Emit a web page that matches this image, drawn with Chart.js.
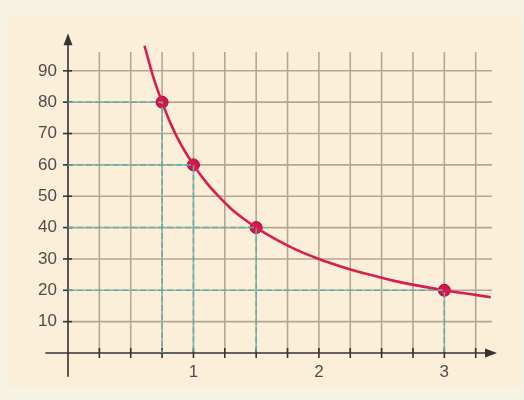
<!DOCTYPE html>
<html lang="en">
<head>
  <meta charset="UTF-8">
  <title>Hyperbola</title>
  <style>
    html, body { margin: 0; padding: 0; background: #f7f3e2; }
    #wrap { width: 524px; height: 400px; position: relative; }
  </style>
</head>
<body>
  <div id="wrap">
    <canvas id="graphic"></canvas>
  </div>

  <script src="https://cdn.jsdelivr.net/npm/chart.js"></script>
  <script>
    // marked points
    const puntosX = [0.75, 1, 1.5, 3];
    const puntosY = [80, 60, 40, 20];

    // curve
    const curvaX = [0.61, 0.68, 0.75, 0.82, 0.9, 1, 1.1, 1.2, 1.3, 1.4, 1.5, 1.65, 1.8, 2, 2.2, 2.4, 2.6, 2.8, 3, 3.2, 3.37];
    const curvaY = [98, 88, 80, 73, 66.5, 60, 54.5, 50, 46, 42.8, 40, 36.4, 33.3, 30, 27.3, 25, 23, 21.4, 20, 18.8, 17.8];

    const ticksY = [10, 20, 30, 40, 50, 60, 70, 80, 90];
    const ticksX = [1, 2, 3];
    const gridX = [0.25, 0.5, 0.75, 1, 1.25, 1.5, 1.75, 2, 2.25, 2.5, 2.75, 3, 3.25];

    const guias = puntosX.map((x, i) => ({
      type: 'line',
      data: [{ x: 0, y: puntosY[i] }, { x: x, y: puntosY[i] }, { x: x, y: 0 }],
      borderColor: '#56b3ad',
      borderWidth: 1.5,
      borderDash: [6, 3],
      pointRadius: 0,
      tension: 0,
      clip: false
    }));

    const fondo = {
      id: 'fondo',
      beforeDraw(chart) {
        const c = chart.ctx;
        c.save();
        c.fillStyle = '#f7f3e2';
        c.fillRect(0, 0, chart.width, chart.height);
        c.fillStyle = '#fcefd9';
        c.beginPath();
        c.roundRect(8, 14, 514, 375, 6);
        c.fill();
        c.restore();
      },
      beforeDatasetsDraw(chart) {
        const c = chart.ctx;
        const sx = chart.scales.x, sy = chart.scales.y;
        c.save();
        // grid
        c.strokeStyle = '#b3a793';
        c.lineWidth = 1.6;
        ticksY.forEach(v => {
          c.beginPath();
          c.moveTo(sx.getPixelForValue(0), sy.getPixelForValue(v));
          c.lineTo(sx.getPixelForValue(3.38), sy.getPixelForValue(v));
          c.stroke();
        });
        gridX.forEach(v => {
          c.beginPath();
          c.moveTo(sx.getPixelForValue(v), sy.getPixelForValue(0));
          c.lineTo(sx.getPixelForValue(v), sy.getPixelForValue(96));
          c.stroke();
        });
        // axes
        c.strokeStyle = '#333';
        c.fillStyle = '#333';
        c.lineWidth = 1.6;
        const x0 = sx.getPixelForValue(0), y0 = sy.getPixelForValue(0);
        const xEnd = sx.getPixelForValue(3.42), yEnd = sy.getPixelForValue(102);
        c.beginPath();
        c.moveTo(sx.getPixelForValue(-0.18), y0);
        c.lineTo(xEnd - 8, y0);
        c.moveTo(x0, sy.getPixelForValue(-7.6));
        c.lineTo(x0, yEnd + 8);
        c.stroke();
        // ticks
        gridX.forEach(v => {
          const px = sx.getPixelForValue(v);
          c.beginPath();
          c.moveTo(px, y0 - 5);
          c.lineTo(px, y0 + 5);
          c.stroke();
        });
        ticksY.forEach(v => {
          const py = sy.getPixelForValue(v);
          c.beginPath();
          c.moveTo(x0 - 5, py);
          c.lineTo(x0 + 4, py);
          c.stroke();
        });
        // arrows
        c.beginPath();
        c.moveTo(xEnd, y0);
        c.lineTo(xEnd - 12, y0 - 4.5);
        c.lineTo(xEnd - 12, y0 + 4.5);
        c.closePath();
        c.fill();
        c.beginPath();
        c.moveTo(x0, yEnd);
        c.lineTo(x0 - 4.5, yEnd + 12);
        c.lineTo(x0 + 4.5, yEnd + 12);
        c.closePath();
        c.fill();
        c.restore();
      }
    };

    new Chart(document.getElementById('graphic'), {
      type: 'scatter',
      data: {
        datasets: [
          ...guias,
          {
            type: 'line',
            data: curvaX.map((x, i) => ({ x: x, y: curvaY[i] })),
            borderColor: '#d81e50',
            borderWidth: 2.6,
            pointRadius: 0,
            cubicInterpolationMode: 'monotone',
            clip: false
          },
          {
            data: puntosX.map((x, i) => ({ x: x, y: puntosY[i] })),
            backgroundColor: '#d9124e',
            borderColor: '#a80d3a',
            borderWidth: 1,
            pointRadius: 6,
            clip: false
          }
        ]
      },
      options: {
        responsive: true,
        maintainAspectRatio: false,
        animation: false,
        events: [],
        layout: { padding: { top: 52, right: 32, left: 0, bottom: 0 } },
        plugins: { legend: { display: false }, tooltip: { enabled: false } },
        scales: {
          x: {
            type: 'linear',
            min: 0,
            max: 3.38,
            afterBuildTicks: s => { s.ticks = ticksX.map(v => ({ value: v })); },
            afterFit: s => { s.height = 47; },
            grid: { display: false, drawTicks: false },
            border: { display: false },
            ticks: { padding: 9, color: '#4d4d4d', font: { family: 'Liberation Sans', size: 17 } }
          },
          y: {
            min: 0,
            max: 96,
            afterBuildTicks: s => { s.ticks = ticksY.map(v => ({ value: v })); },
            afterFit: s => { s.width = 68; },
            grid: { display: false, drawTicks: false },
            border: { display: false },
            ticks: { padding: 11, color: '#4d4d4d', font: { family: 'Liberation Sans', size: 17 } }
          }
        }
      },
      plugins: [fondo]
    });
  </script>
</body>
</html>
